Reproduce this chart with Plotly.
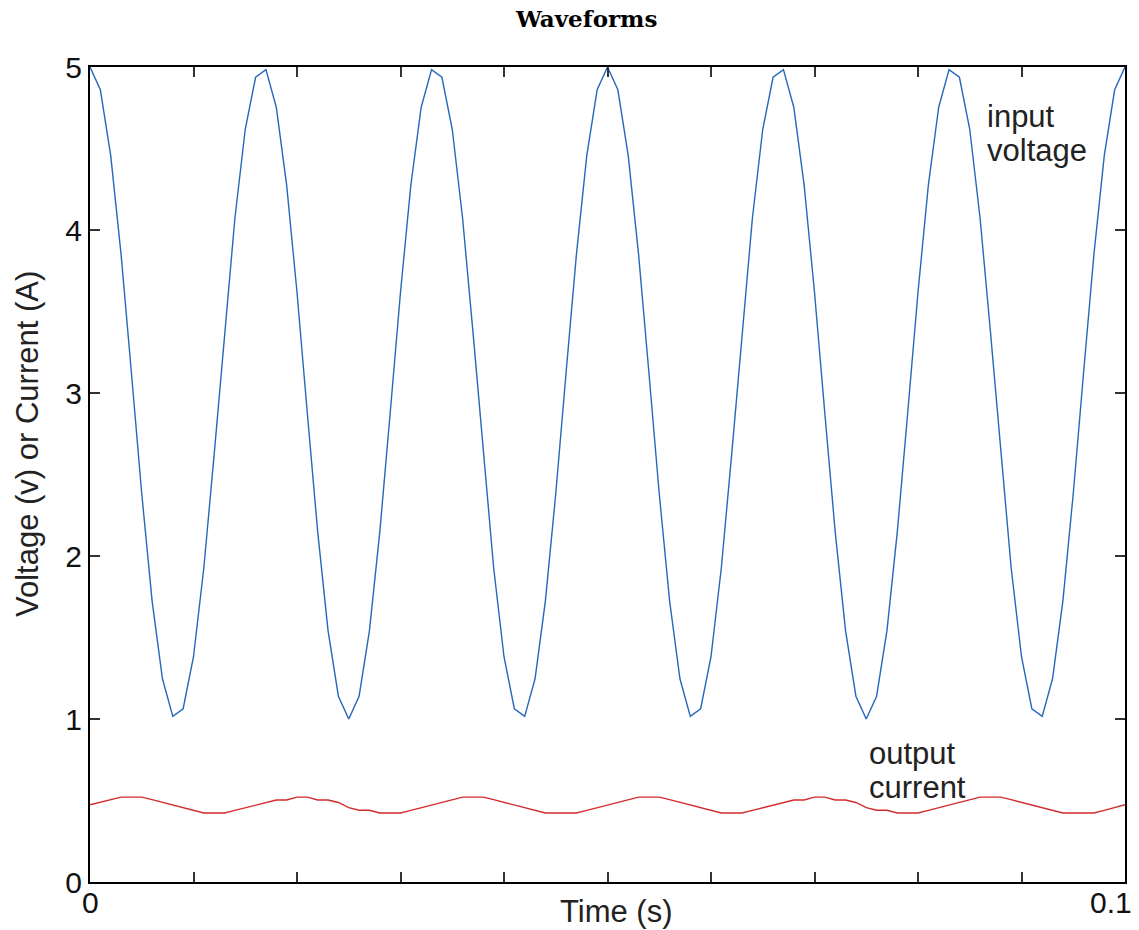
import plotly.graph_objects as go

# Time samples (s), 1 ms spacing
time_s = [i / 1000 for i in range(101)]

# Input voltage (V)
input_voltage = [
    5.000, 4.860, 4.458, 3.852, 3.126, 2.382, 1.725, 1.247, 1.016, 1.063,
    1.382, 1.928, 2.625, 3.375, 4.072, 4.618, 4.937, 4.984, 4.753, 4.275,
    3.618, 2.874, 2.148, 1.542, 1.140, 1.000, 1.140, 1.542, 2.148, 2.874,
    3.618, 4.275, 4.753, 4.984, 4.937, 4.618, 4.072, 3.375, 2.625, 1.928,
    1.382, 1.063, 1.016, 1.247, 1.725, 2.382, 3.126, 3.852, 4.458, 4.860,
    5.000, 4.860, 4.458, 3.852, 3.126, 2.382, 1.725, 1.247, 1.016, 1.063,
    1.382, 1.928, 2.625, 3.375, 4.072, 4.618, 4.937, 4.984, 4.753, 4.275,
    3.618, 2.874, 2.148, 1.542, 1.140, 1.000, 1.140, 1.542, 2.148, 2.874,
    3.618, 4.275, 4.753, 4.984, 4.937, 4.618, 4.072, 3.375, 2.625, 1.928,
    1.382, 1.063, 1.016, 1.247, 1.725, 2.382, 3.126, 3.852, 4.458, 4.860,
    5.000,
]

# Output current (A)
output_current = [
    0.474, 0.490, 0.505, 0.521, 0.521, 0.521, 0.505, 0.488, 0.472, 0.456,
    0.439, 0.423, 0.423, 0.423, 0.439, 0.455, 0.471, 0.487, 0.503, 0.503,
    0.521, 0.521, 0.503, 0.503, 0.488, 0.456, 0.440, 0.440, 0.423, 0.423,
    0.423, 0.439, 0.456, 0.472, 0.488, 0.505, 0.521, 0.521, 0.521, 0.505,
    0.488, 0.472, 0.456, 0.439, 0.423, 0.423, 0.423, 0.423, 0.439, 0.456,
    0.474, 0.490, 0.505, 0.521, 0.521, 0.521, 0.505, 0.488, 0.472, 0.456,
    0.439, 0.423, 0.423, 0.423, 0.439, 0.455, 0.471, 0.487, 0.503, 0.503,
    0.521, 0.521, 0.503, 0.503, 0.488, 0.456, 0.440, 0.440, 0.423, 0.423,
    0.423, 0.439, 0.456, 0.472, 0.488, 0.505, 0.521, 0.521, 0.521, 0.505,
    0.488, 0.472, 0.456, 0.439, 0.423, 0.423, 0.423, 0.423, 0.439, 0.456,
    0.474,
]

x_ticks = [i / 100 for i in range(11)]
y_ticks = [0, 1, 2, 3, 4, 5]

TXT = "#222222"
FONT = "Liberation Sans, Arial, Helvetica, sans-serif"

# body margin is removed (post_script below), so the figure fills the window;
# plot area at x 90..1125, y 67..882
W, H = 1139, 930
ML, MR, MT, MB = 90, 14, 67, 48
PW, PH = W - ML - MR, H - MT - MB


def px_to_paper(px, py):
    return ((px - ML) / PW, (H - MB - py) / PH)


fig = go.Figure()
fig.add_trace(go.Scatter(x=time_s, y=input_voltage, mode="lines",
                         line=dict(color="#2667bd", width=1.4),
                         name="input voltage", showlegend=False))
fig.add_trace(go.Scatter(x=time_s, y=output_current, mode="lines",
                         line=dict(color="#d22b2b", width=1.4),
                         name="output current", showlegend=False))

fig.update_layout(
    width=W, height=H,
    margin=dict(l=ML, r=MR, t=MT, b=MB),
    plot_bgcolor="white", paper_bgcolor="white",
    font=dict(family=FONT, size=31, color=TXT),
    xaxis=dict(range=[0, 0.1], tickvals=x_ticks, showticklabels=False,
               ticks="inside", ticklen=10, tickwidth=1.5, tickcolor="#333333",
               showline=True, linecolor="black", linewidth=2, mirror="ticks",
               showgrid=False, zeroline=False),
    yaxis=dict(range=[0, 5], tickvals=y_ticks, ticktext=[str(v) for v in y_ticks],
               ticks="inside", ticklen=10, tickwidth=1.5, tickcolor="#333333",
               showline=True, linecolor="black", linewidth=2, mirror="ticks",
               showgrid=False, zeroline=False,
               tickfont=dict(family=FONT, size=30, color="#111111")),
)

tick_font = dict(family=FONT, size=30, color="#111111")
ylab_x, ylab_y = px_to_paper(27, 444)
time_x, time_y = px_to_paper(616, 911)
title_x, title_y = px_to_paper(586, 19)

ann = [
    dict(x=title_x, y=title_y, xref="paper", yref="paper",
         text="<b>Waveforms</b>", showarrow=False,
         xanchor="center", yanchor="middle",
         font=dict(family="DejaVu Serif, Liberation Serif, serif",
                   size=23, color="#000000")),
    dict(x=0, y=0, xref="x", yref="paper", text="0", showarrow=False,
         xanchor="center", yanchor="top", yshift=-2, font=tick_font),
    dict(x=0.1, y=0, xref="x", yref="paper", text="0.1", showarrow=False,
         xanchor="right", yanchor="top", yshift=-2, xshift=9, font=tick_font),
    dict(x=time_x, y=time_y, xref="paper", yref="paper", text="Time (s)",
         showarrow=False, xanchor="center", yanchor="middle"),
    dict(x=ylab_x, y=ylab_y, xref="paper", yref="paper",
         text="Voltage (v) or Current (A)",
         showarrow=False, textangle=-90, xanchor="center", yanchor="middle"),
    dict(x=0.08647, y=4.696, xref="x", yref="y", text="input",
         showarrow=False, xanchor="left", yanchor="middle"),
    dict(x=0.08647, y=4.490, xref="x", yref="y", text="voltage",
         showarrow=False, xanchor="left", yanchor="middle"),
    dict(x=0.07507, y=0.787, xref="x", yref="y", text="output",
         showarrow=False, xanchor="left", yanchor="middle"),
    dict(x=0.07507, y=0.582, xref="x", yref="y", text="current",
         showarrow=False, xanchor="left", yanchor="middle"),
]
fig.update_layout(annotations=ann)

fig.write_html(
    "out.html",
    config={"displayModeBar": False},
    post_script="document.body.style.margin='0px';"
                "document.documentElement.style.overflow='hidden';",
)
